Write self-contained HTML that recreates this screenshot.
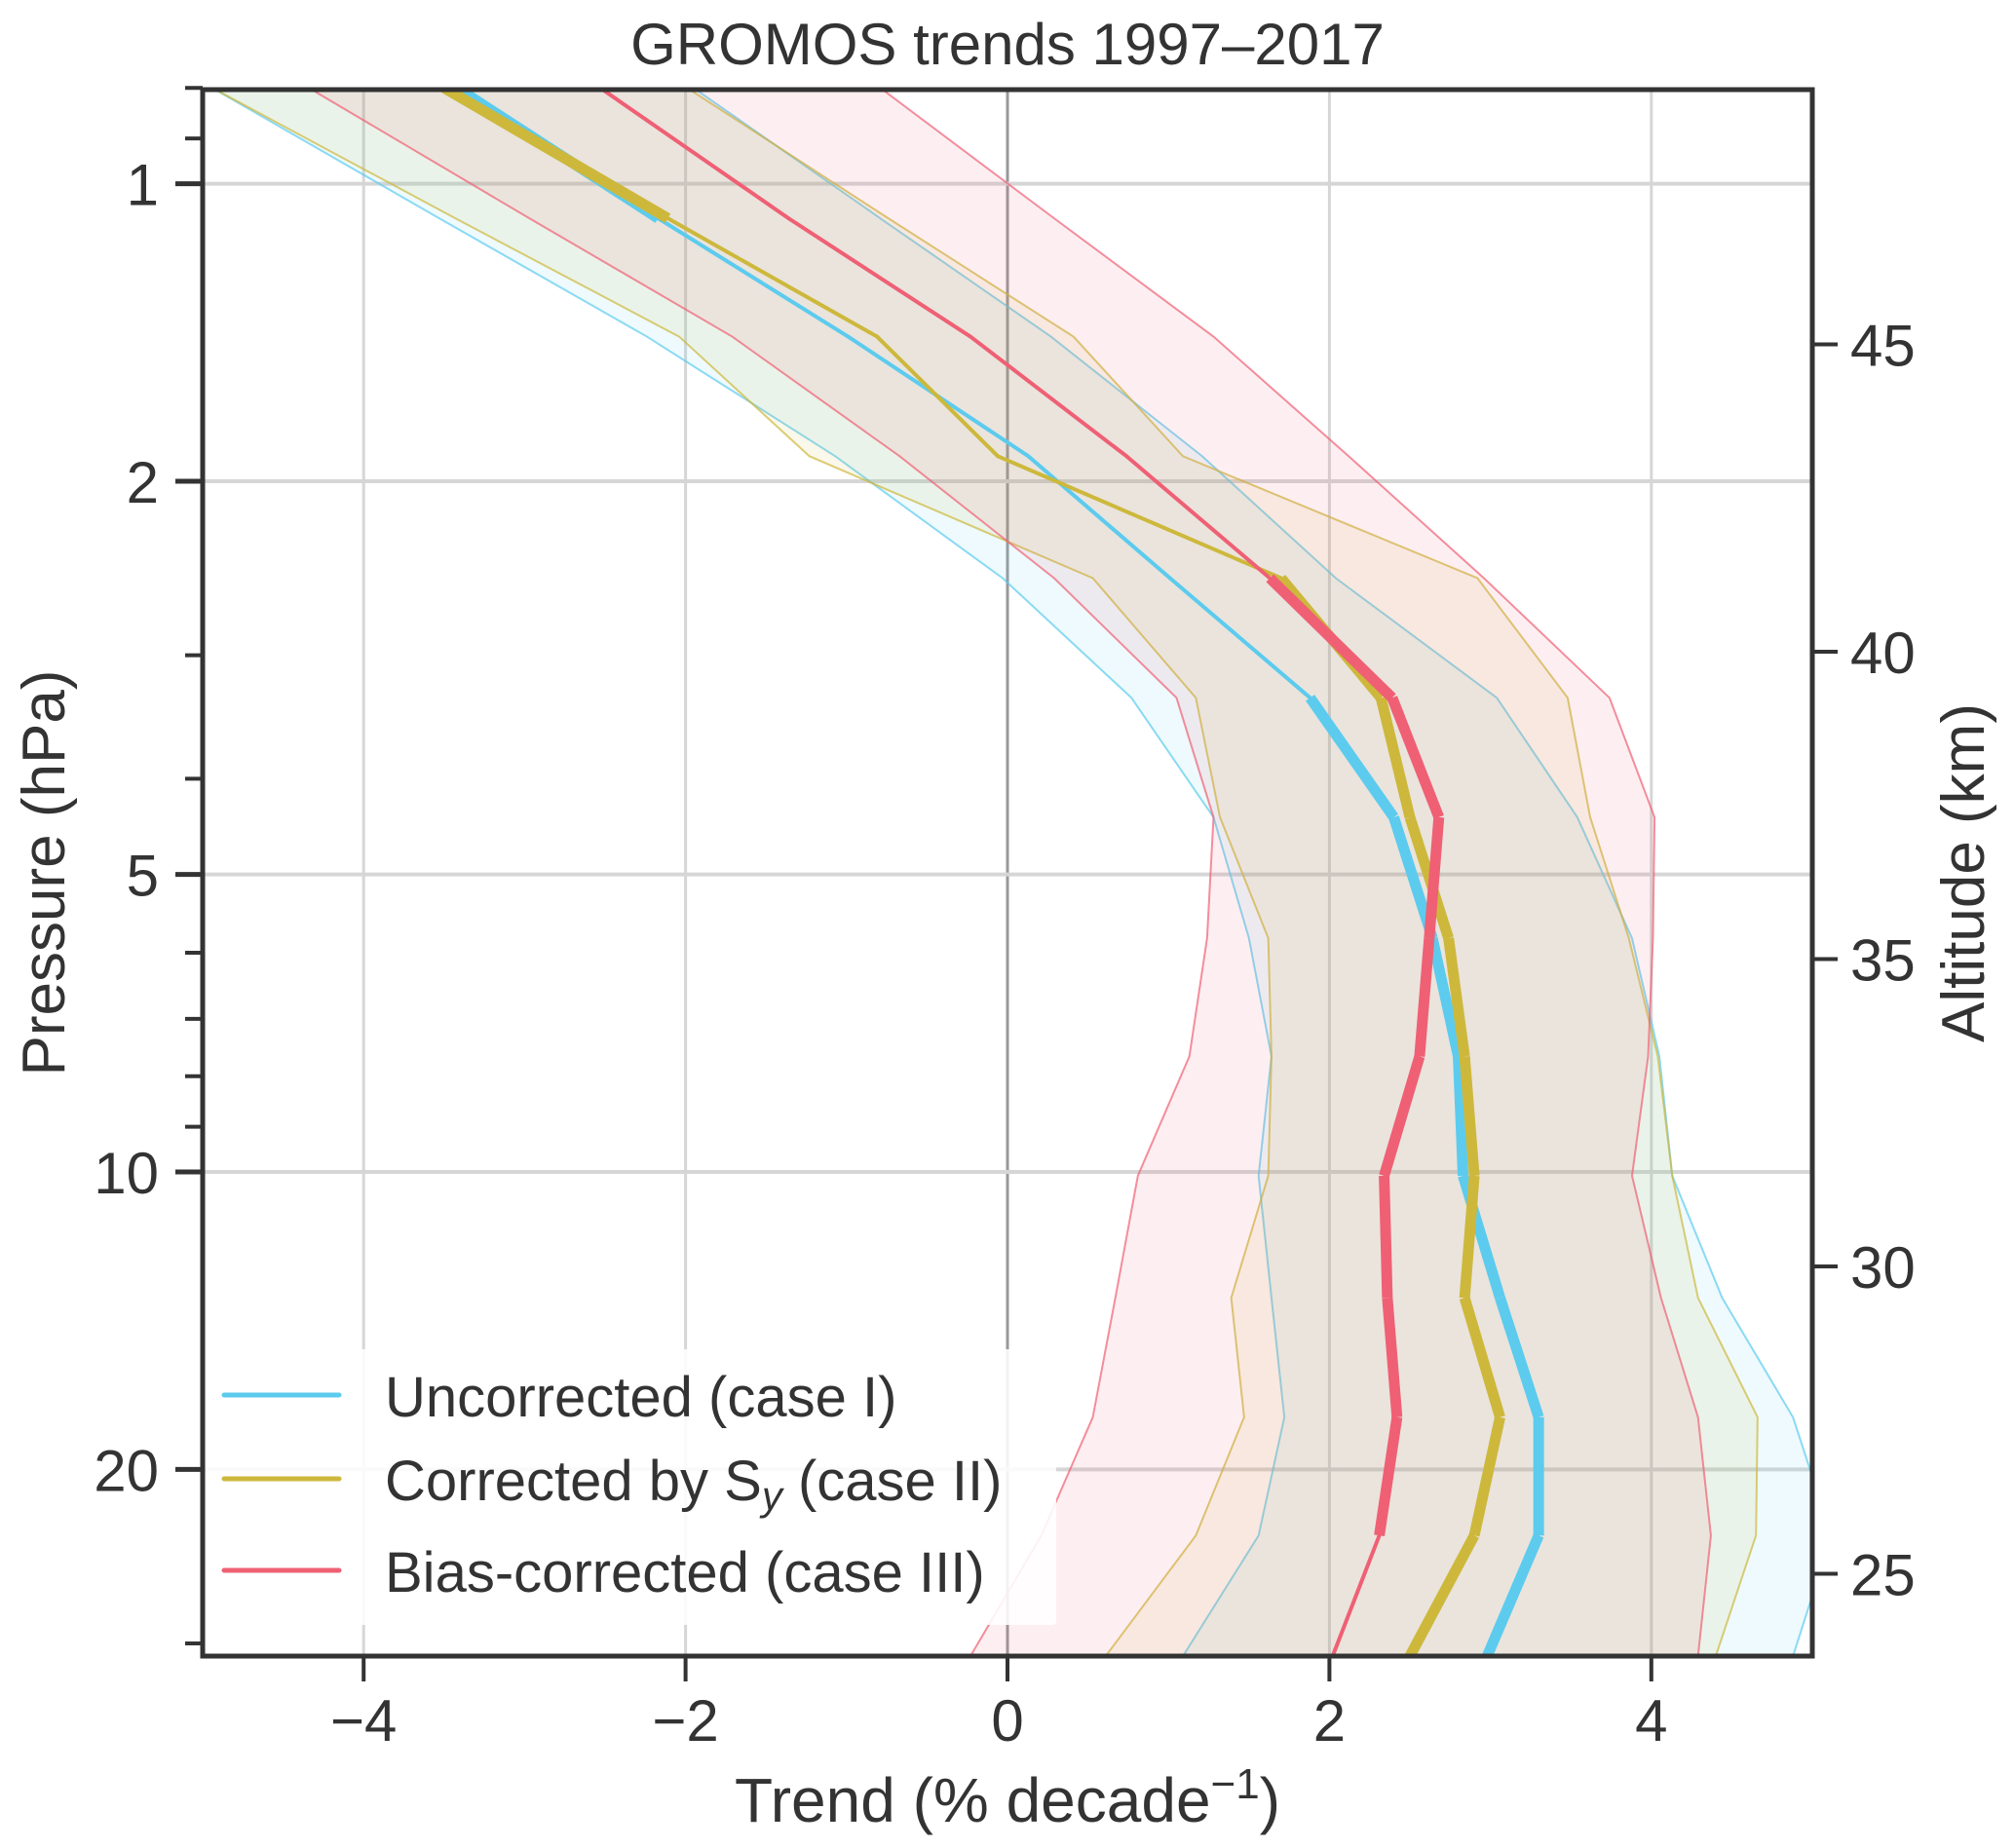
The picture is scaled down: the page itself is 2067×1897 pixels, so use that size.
<!DOCTYPE html>
<html><head><meta charset="utf-8">
<style>
html,body{margin:0;padding:0;background:#fff;}
svg{display:block;font-family:"Liberation Sans","DejaVu Sans",sans-serif;}
</style></head>
<body>
<svg id="chart" width="2067" height="1897" viewBox="0 0 2067 1897" xmlns="http://www.w3.org/2000/svg">
<defs><clipPath id="plotclip"><rect x="208" y="92" width="1652" height="1608"/></clipPath></defs>
<rect x="0" y="0" width="2067" height="1897" fill="#fff"/>
<g id="grid"></g>
<g id="series" clip-path="url(#plotclip)"></g>
<g id="legend"></g>
<g id="axes"></g>
<text x="1034" y="66" font-size="60" text-anchor="middle" fill="#333">GROMOS trends 1997–2017</text>
<text x="1034" y="1870" font-size="64" text-anchor="middle" fill="#333">Trend (% decade<tspan dy="-24" font-size="44">−1</tspan><tspan dy="24">)</tspan></text>
<text transform="translate(66,896) rotate(-90)" font-size="62" text-anchor="middle" fill="#333">Pressure (hPa)</text>
<text transform="translate(2036,896) rotate(-90)" font-size="62" text-anchor="middle" fill="#333">Altitude (km)</text>
</svg>
<script>
// ---- data ----
const pressureLevels = [0.80, 1.084, 1.428, 1.887, 2.507, 3.313, 4.376, 5.80, 7.64, 10.09, 13.41, 17.71, 23.33, 30.9];
const case1Trend = [-3.42, -2.17, -0.99, 0.13, 1.01, 1.88, 2.40, 2.64, 2.80, 2.83, 3.06, 3.30, 3.30, 2.98];
const case1Low   = [-4.94, -3.53, -2.24, -1.07, -0.03, 0.77, 1.28, 1.50, 1.64, 1.56, 1.64, 1.72, 1.56, 1.09];
const case1High  = [-1.95, -0.79, 0.27, 1.21, 2.04, 3.04, 3.54, 3.88, 4.05, 4.13, 4.44, 4.88, 5.12, 4.88];
const case2Trend = [-3.50, -2.11, -0.81, -0.06, 1.70, 2.32, 2.50, 2.74, 2.84, 2.90, 2.84, 3.06, 2.90, 2.50];
const case2Low   = [-4.94, -3.43, -2.04, -1.23, 0.53, 1.17, 1.32, 1.62, 1.64, 1.62, 1.39, 1.47, 1.17, 0.61];
const case2High  = [-1.99, -0.74, 0.41, 1.09, 2.92, 3.48, 3.62, 3.86, 4.04, 4.13, 4.29, 4.66, 4.65, 4.40];
const case3Trend = [-2.53, -1.36, -0.23, 0.74, 1.63, 2.39, 2.68, 2.62, 2.56, 2.34, 2.36, 2.42, 2.31, 2.02];
const case3Low   = [-4.34, -2.97, -1.71, -0.67, 0.29, 1.05, 1.28, 1.24, 1.13, 0.81, 0.67, 0.53, 0.21, -0.23];
const case3High  = [-0.79, 0.29, 1.28, 2.12, 2.96, 3.74, 4.02, 4.01, 3.98, 3.88, 4.06, 4.29, 4.37, 4.29];
// significance (thick segment) flags per segment
const case1Sig = [1,0,0,0,0,1,1,1,1,1,1,1,1];
const case2Sig = [1,0,0,0,1,1,1,1,1,1,1,1,1];
const case3Sig = [0,0,0,0,1,1,1,1,1,1,1,1,0];
const xTicks = [-4, -2, 0, 2, 4];
const xTickLabels = ["−4", "−2", "0", "2", "4"];
const pTicks = [1, 2, 5, 10, 20];
const pTickLabels = ["1", "2", "5", "10", "20"];
const pMinorTicks = [0.8, 0.9, 3, 4, 6, 7, 8, 9, 30];
const altTicks = [25, 30, 35, 40, 45];
const altTickLabels = ["25", "30", "35", "40", "45"];
const legendLabels = ["Uncorrected (case I)", "Corrected by S", "Bias-corrected (case III)"];

// ---- scales ----
const L=208, R=1860, T=92, B=1700;
function xs(v){ return 1034 + v*165.2; }
function ys(p){ return 188.6 + Math.log10(p)*1014.4; }
function yalt(a){ return 353.5 + (45-a)*63.1; }
const NS="http://www.w3.org/2000/svg";
function mk(tag, attrs, parent){ const e=document.createElementNS(NS,tag); for(const k in attrs) e.setAttribute(k,attrs[k]); parent.appendChild(e); return e; }

const grid=document.getElementById('grid');
xTicks.forEach(v=>{
  const g=mk('line',{x1:xs(v),x2:xs(v),y1:T,y2:B,stroke:v===0?'#999':'#d6d6d6','stroke-width':3},grid);
  
  
});
pTicks.forEach(p=>{
  const g=mk('line',{x1:L,x2:R,y1:ys(p),y2:ys(p),stroke:'#d6d6d6','stroke-width':4},grid);
  
  
});

const series=document.getElementById('series');
const cols=['#5ccbee','#cdb83c','#ef6074'];
const lows=[case1Low,case2Low,case3Low], highs=[case1High,case2High,case3High];
const trends=[case1Trend,case2Trend,case3Trend], sigs=[case1Sig,case2Sig,case3Sig];
const names=['case1','case2','case3'];
for(let s=0;s<3;s++){
  let pts=[];
  for(let i=0;i<pressureLevels.length;i++) pts.push(xs(lows[s][i])+','+ys(pressureLevels[i]));
  for(let i=pressureLevels.length-1;i>=0;i--) pts.push(xs(highs[s][i])+','+ys(pressureLevels[i]));
  const band=mk('polygon',{points:pts.join(' '),fill:cols[s],'fill-opacity':0.1,stroke:'none'},series);
  
  
  [lows[s],highs[s]].forEach(arr=>{
    const e=mk('polyline',{points:arr.map((v,i)=>xs(v)+','+ys(pressureLevels[i])).join(' '),fill:'none',stroke:cols[s],'stroke-width':2,'stroke-opacity':0.7},series);
    
    
  });
}
for(let s=0;s<3;s++){
  for(let i=0;i<pressureLevels.length-1;i++){
    const seg=mk('line',{x1:xs(trends[s][i]),y1:ys(pressureLevels[i]),x2:xs(trends[s][i+1]),y2:ys(pressureLevels[i+1]),stroke:cols[s],'stroke-width':sigs[s][i]?11:4,'stroke-linecap':sigs[s][i]?'butt':'round'},series);
    
    
  }
}

// legend
const lg=document.getElementById('legend');
const box=mk('rect',{x:210,y:1385,width:874,height:283,fill:'#fff','fill-opacity':0.88,rx:4},lg);


const ly=[1432,1518,1612];
for(let s=0;s<3;s++){
  const ln=mk('line',{x1:230,x2:348,y1:ly[s],y2:ly[s],stroke:cols[s],'stroke-width':5,'stroke-linecap':'round'},lg);
  
  
  const t=mk('text',{x:395,y:ly[s]+22,'font-size':58,fill:'#333'},lg);
  
  
  if(s===1){
    t.appendChild(document.createTextNode('Corrected by S'));
    const sub=mk('tspan',{dy:10,'font-size':42,'font-style':'italic'},t); sub.textContent='y';
    const rest=mk('tspan',{dy:-10},t); rest.textContent=' (case II)';
  } else t.textContent=legendLabels[s];
}

// axes
const ax=document.getElementById('axes');
const frame=mk('rect',{x:L,y:T,width:R-L,height:B-T,fill:'none',stroke:'#333','stroke-width':5},ax);


xTicks.forEach((v,i)=>{
  const t=mk('line',{x1:xs(v),x2:xs(v),y1:B,y2:B+26,stroke:'#333','stroke-width':4},ax);
  
  
  const lb=mk('text',{x:xs(v),y:1787,'font-size':60,'text-anchor':'middle',fill:'#333'},ax);
  
  
  lb.textContent=xTickLabels[i];
});
pTicks.forEach((p,i)=>{
  const t=mk('line',{x1:L-28,x2:L,y1:ys(p),y2:ys(p),stroke:'#333','stroke-width':5},ax);
  
  
  const lb=mk('text',{x:163,y:ys(p)+22,'font-size':60,'text-anchor':'end',fill:'#333'},ax);
  
  
  lb.textContent=pTickLabels[i];
});
pMinorTicks.forEach(p=>{
  const t=mk('line',{x1:L-18,x2:L,y1:ys(p),y2:ys(p),stroke:'#333','stroke-width':4},ax);
  
  
});
altTicks.forEach((a,i)=>{
  const t=mk('line',{x1:R,x2:R+26,y1:yalt(a),y2:yalt(a),stroke:'#333','stroke-width':4},ax);
  
  
  const lb=mk('text',{x:1899,y:yalt(a)+22,'font-size':60,fill:'#333'},ax);
  
  
  lb.textContent=altTickLabels[i];
});
</script>
</body></html>
